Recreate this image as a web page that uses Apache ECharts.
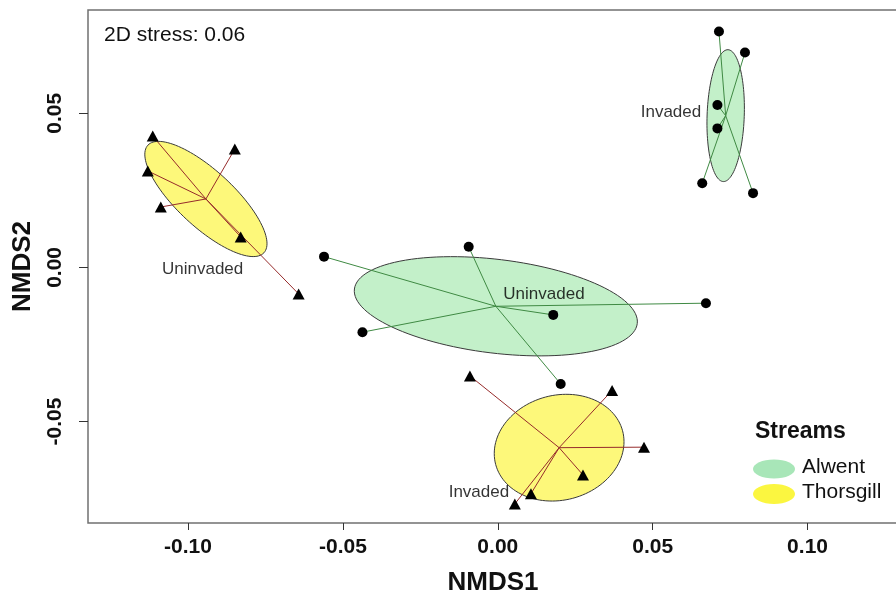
<!DOCTYPE html>
<html>
<head>
<meta charset="utf-8">
<title>NMDS</title>
<script src="https://cdn.jsdelivr.net/npm/echarts@6/dist/echarts.min.js"></script>
<style>
  html, body { margin: 0; padding: 0; background: #fff; }
  #chart { width: 896px; height: 595px; }
</style>
</head>
<body>
<div id="chart"></div>
<script>
// site scores [NMDS1, NMDS2]
const alwentInvaded = [
  [0.0714, 0.0765], [0.0798, 0.0697], [0.0709, 0.0527],
  [0.0709, 0.0451], [0.0660, 0.0273], [0.0824, 0.0241]
]
const alwentUninvaded = [
  [-0.0561, 0.0035], [-0.0094, 0.0067], [-0.0437, -0.0210],
  [0.0179, -0.0154], [0.0672, -0.0116], [0.0203, -0.0378]
]
const thorsgillInvaded = [
  [-0.0090, -0.0352], [0.0369, -0.0399], [0.0472, -0.0583],
  [0.0275, -0.0673], [0.0107, -0.0734], [0.0055, -0.0767]
]
const thorsgillUninvaded = [
  [-0.1114, 0.0426], [-0.0849, 0.0384], [-0.1130, 0.0313],
  [-0.1088, 0.0196], [-0.0830, 0.0099], [-0.0643, -0.0086]
]
// ellipse semi axes and rotation in degrees: [a, b, angle]
const ellAlwentInv = [0.0214, 0.0060, 88]
const ellAlwentUninv = [0.0460, 0.0152, -7]
const ellThorsInv = [0.0212, 0.0170, 15]
const ellThorsUninv = [0.0256, 0.0091, -43]
// group labels [x, y, text]
const groupLabels = [
  [0.0559, 0.0504, 'Invaded'],
  [0.0149, -0.0086, 'Uninvaded'],
  [-0.0061, -0.0731, 'Invaded'],
  [-0.0953, -0.0005, 'Uninvaded']
]
const xTicks = [-0.10, -0.05, 0.00, 0.05, 0.10]
const yTicks = [-0.05, 0.00, 0.05]

const font = "'Liberation Sans', Arial, sans-serif"
const greenFill = '#c3f0c9'
const yellowFill = '#fdf87a'
const greenLine = '#3f8a43'
const redLine = '#962b2b'

function centroid (pts) {
  let sx = 0
  let sy = 0
  pts.forEach(p => { sx += p[0]; sy += p[1] })
  return [sx / pts.length, sy / pts.length]
}

function spider (pts) {
  const c = centroid(pts)
  return pts.map(p => ({ coords: [c, p] }))
}

function ellItem (pts, ell, fill) {
  const c = centroid(pts)
  return { value: [c[0], c[1], ell[0], ell[1], ell[2]], fill: fill }
}

const ellipses = [
  ellItem(alwentInvaded, ellAlwentInv, greenFill),
  ellItem(alwentUninvaded, ellAlwentUninv, greenFill),
  ellItem(thorsgillInvaded, ellThorsInv, yellowFill),
  ellItem(thorsgillUninvaded, ellThorsUninv, yellowFill)
]

const chart = echarts.init(document.getElementById('chart'))
const option = {
  animation: false,
  textStyle: { fontFamily: font },
  grid: {
    left: 88,
    top: 10,
    right: -2,
    bottom: 72,
    containLabel: false,
    outerBoundsMode: 'none',
    show: true,
    borderColor: '#707070',
    borderWidth: 1.5
  },
  xAxis: {
    type: 'value',
    min: -0.1323,
    max: 0.1292,
    name: 'NMDS1',
    nameLocation: 'middle',
    nameGap: 47,
    nameTextStyle: { fontSize: 26, fontWeight: 'bold', color: '#111', fontFamily: font },
    axisLine: { show: false, onZero: false },
    splitLine: { show: false },
    axisTick: { show: true, length: 7, lineStyle: { color: '#333' }, customValues: xTicks },
    axisLabel: {
      customValues: xTicks,
      margin: 14,
      fontSize: 21,
      fontWeight: 'bold',
      color: '#111',
      fontFamily: font,
      formatter: v => v.toFixed(2)
    }
  },
  yAxis: {
    type: 'value',
    min: -0.0829,
    max: 0.0835,
    name: 'NMDS2',
    nameLocation: 'middle',
    nameGap: 52,
    nameRotate: 90,
    nameTextStyle: { fontSize: 26, fontWeight: 'bold', color: '#111', fontFamily: font },
    axisLine: { show: false, onZero: false },
    splitLine: { show: false },
    axisTick: { show: true, length: 9, lineStyle: { color: '#333' }, customValues: yTicks },
    axisLabel: {
      customValues: yTicks,
      rotate: 90,
      margin: 22,
      fontSize: 21,
      fontWeight: 'bold',
      color: '#111',
      fontFamily: font,
      formatter: v => v.toFixed(2)
    }
  },
  series: [
    {
      type: 'custom',
      coordinateSystem: 'cartesian2d',
      z: 1,
      data: ellipses,
      encode: { x: 0, y: 1 },
      renderItem: function (params, api) {
        const cx = api.value(0)
        const cy = api.value(1)
        const a = api.value(2)
        const b = api.value(3)
        const t = api.value(4) * Math.PI / 180
        const pts = []
        for (let i = 0; i < 120; i++) {
          const u = i / 120 * 2 * Math.PI
          pts.push(api.coord([
            cx + a * Math.cos(u) * Math.cos(t) - b * Math.sin(u) * Math.sin(t),
            cy + a * Math.cos(u) * Math.sin(t) + b * Math.sin(u) * Math.cos(t)
          ]))
        }
        return {
          type: 'polygon',
          shape: { points: pts },
          style: { fill: ellipses[params.dataIndex].fill, stroke: '#3a3a3a', lineWidth: 1 }
        }
      }
    },
    {
      type: 'lines',
      coordinateSystem: 'cartesian2d',
      z: 2,
      data: spider(alwentInvaded).concat(spider(alwentUninvaded)),
      lineStyle: { color: greenLine, width: 1, opacity: 1 }
    },
    {
      type: 'lines',
      coordinateSystem: 'cartesian2d',
      z: 2,
      data: spider(thorsgillInvaded).concat(spider(thorsgillUninvaded)),
      lineStyle: { color: redLine, width: 1, opacity: 1 }
    },
    {
      type: 'scatter',
      z: 3,
      symbol: 'circle',
      symbolSize: 10,
      itemStyle: { color: '#000', opacity: 1 },
      data: alwentInvaded.concat(alwentUninvaded)
    },
    {
      type: 'scatter',
      z: 3,
      symbol: 'triangle',
      symbolSize: [12, 11],
      itemStyle: { color: '#000', opacity: 1 },
      data: thorsgillInvaded.concat(thorsgillUninvaded)
    },
    {
      type: 'scatter',
      z: 4,
      symbolSize: 0,
      silent: true,
      data: groupLabels.map(d => ({ value: [d[0], d[1]], name: d[2] })),
      label: {
        show: true,
        position: 'inside',
        formatter: p => p.name,
        fontSize: 17,
        color: '#000',
        textBorderWidth: 0,
        fontFamily: font
      }
    }
  ],
  graphic: [
    {
      type: 'text',
      left: 104,
      top: 25,
      style: { text: '2D stress: 0.06', fontSize: 21, fill: '#111', fontFamily: font }
    },
    {
      type: 'text',
      left: 755,
      top: 420,
      style: { text: 'Streams', fontSize: 23, fontWeight: 'bold', fill: '#111', fontFamily: font }
    },
    {
      type: 'ellipse',
      shape: { cx: 774, cy: 469, rx: 21, ry: 9.5 },
      style: { fill: '#a8e6b8' }
    },
    {
      type: 'ellipse',
      shape: { cx: 774, cy: 494, rx: 21, ry: 10 },
      style: { fill: '#fbf640' }
    },
    {
      type: 'text',
      left: 802,
      top: 457,
      style: { text: 'Alwent', fontSize: 21, fill: '#111', fontFamily: font }
    },
    {
      type: 'text',
      left: 802,
      top: 482,
      style: { text: 'Thorsgill', fontSize: 21, fill: '#111', fontFamily: font }
    }
  ]
}
chart.setOption(option)
</script>
</body>
</html>
